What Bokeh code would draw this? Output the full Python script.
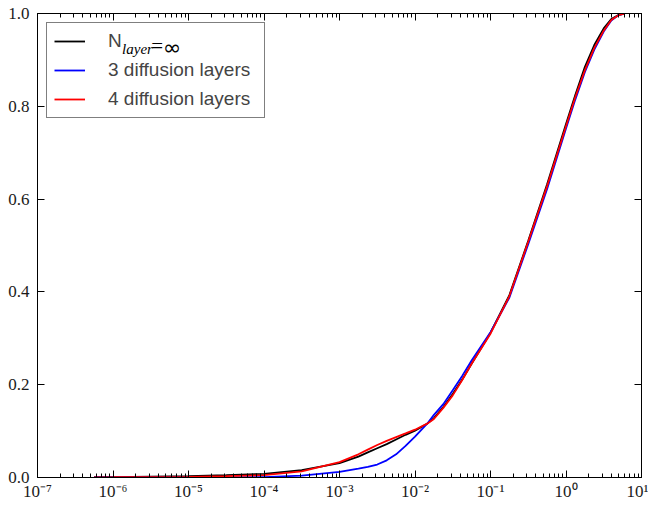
from bokeh.plotting import figure
from bokeh.models import (Range1d, FixedTicker, LogAxis, LinearAxis, CustomJSTickFormatter,
                          Legend, LegendItem, PrintfTickFormatter)
from bokeh.core.properties import value
from bokeh.embed import file_html
from bokeh.resources import INLINE

# ---- data ----
x_vals = [5.6e-7, 1e-6, 3.16e-6, 1e-5, 3.16e-5, 1e-4, 3.16e-4, 1e-3, 1.78e-3, 2.37e-3,
          3.16e-3, 4.22e-3, 5.62e-3, 7.5e-3, 1e-2, 1.45e-2, 1.78e-2, 2.37e-2, 3.16e-2,
          4.22e-2, 5.62e-2, 0.1, 0.178, 0.316, 0.562, 1.0, 1.33, 1.78, 2.37, 3.16,
          3.98, 5.01, 6.03]
y_inf = [0.0007, 0.001, 0.002, 0.003, 0.005, 0.008, 0.016, 0.031, 0.045, 0.054,
         0.063, 0.072, 0.082, 0.092, 0.101, 0.116, 0.128, 0.152, 0.180,
         0.211, 0.245, 0.312, 0.393, 0.510, 0.632, 0.762, 0.825, 0.885, 0.932, 0.968,
         0.988, 0.997, 1.0]
y_3 = [0.0, 0.0, 0.0001, 0.0002, 0.0004, 0.001, 0.004, 0.012, 0.019, 0.023,
       0.028, 0.037, 0.050, 0.068, 0.088, 0.116, 0.135, 0.158, 0.188,
       0.219, 0.252, 0.313, 0.388, 0.503, 0.622, 0.752, 0.815, 0.874, 0.922, 0.961,
       0.985, 0.997, 1.0]
y_4 = [0.0004, 0.0005, 0.001, 0.0015, 0.003, 0.005, 0.013, 0.033, 0.050, 0.060,
       0.070, 0.079, 0.087, 0.095, 0.103, 0.116, 0.126, 0.150, 0.177,
       0.210, 0.245, 0.310, 0.391, 0.508, 0.628, 0.757, 0.820, 0.878, 0.926, 0.963,
       0.986, 0.997, 1.0]
labels = ["N", "3 diffusion layers", "4 diffusion layers"]
label0_sub = "layer"
label0_eq = "="
label0_inf = "\u221e"
colors = ["#000000", "#0000ff", "#ff0000"]
x_major = [1e-7, 1e-6, 1e-5, 1e-4, 1e-3, 1e-2, 1e-1, 1e0, 1e1]
y_major = [0.0, 0.2, 0.4, 0.6, 0.8, 1.0]

x_minor = [m * d for d in x_major[:-1] for m in range(2, 10)]

p = figure(width=648, height=503, x_axis_type="log",
           x_range=Range1d(1e-7, 10), y_range=Range1d(0, 1),
           output_backend="svg", toolbar_location=None,
           min_border_left=37, min_border_right=7, min_border_top=13, min_border_bottom=22)
p.grid.visible = False
p.outline_line_color = "black"
p.outline_line_width = 1
p.background_fill_color = "white"
p.border_fill_color = "white"

sup_code = r"""
const sup = {"-": "\u207b", "0": "\u2070", "1": "\u00b9", "2": "\u00b2", "3": "\u00b3",
             "4": "\u2074", "5": "\u2075", "6": "\u2076", "7": "\u2077", "8": "\u2078", "9": "\u2079"};
const e = Math.round(Math.log10(tick));
return "10" + String(e).split("").map(c => sup[c]).join("");
"""
blank_code = "return '';"

xt = FixedTicker(ticks=x_major, minor_ticks=x_minor)
yt = FixedTicker(ticks=y_major, minor_ticks=[])

def style(ax):
    ax.axis_line_color = "black"
    ax.axis_line_width = 1
    ax.major_tick_in = 7
    ax.major_tick_out = 0
    ax.minor_tick_in = 4
    ax.minor_tick_out = 0
    ax.major_tick_line_color = "black"
    ax.minor_tick_line_color = "black"
    ax.major_label_text_font = "Liberation Serif"
    ax.major_label_text_color = "#1a1a1a"

xa = p.xaxis[0]
xa.ticker = xt
xa.formatter = CustomJSTickFormatter(code=sup_code)
style(xa)
xa.major_label_text_font_size = "17px"
xa.major_label_standoff = 4

ya = p.yaxis[0]
ya.ticker = yt
ya.formatter = PrintfTickFormatter(format="%.1f")
style(ya)
ya.major_label_text_font_size = "17px"
ya.major_label_standoff = 8

top = LogAxis(ticker=xt, formatter=CustomJSTickFormatter(code=blank_code))
style(top)
top.major_label_standoff = 0
top.major_label_text_font_size = "1px"
p.add_layout(top, "above")
right = LinearAxis(ticker=yt, formatter=CustomJSTickFormatter(code=blank_code))
style(right)
right.major_label_standoff = 0
right.major_label_text_font_size = "1px"
p.add_layout(right, "right")

r0 = p.line(x_vals, y_inf, line_color=colors[0], line_width=1.8)
r1 = p.line(x_vals, y_3, line_color=colors[1], line_width=1.8)
r2 = p.line(x_vals, y_4, line_color=colors[2], line_width=1.8)

# subscript and tail of the first legend label
p.text(x=[1.32e-6], y=[0.924], text=[label0_sub],
       text_font=value("Liberation Serif"), text_font_style="italic",
       text_font_size="15px", text_baseline="alphabetic", text_color="black")
p.text(x=[3.2e-6], y=[0.929], text=[label0_eq],
       text_font=value("Liberation Serif"), text_font_size="21px",
       text_baseline="alphabetic", text_color="black")
p.text(x=[4.6e-6], y=[0.927], text=[label0_inf],
       text_font=value("DejaVu Sans"), text_font_size="22px",
       text_baseline="alphabetic", text_color="black")

legend = Legend(items=[LegendItem(label=labels[0], renderers=[r0]),
                       LegendItem(label=labels[1], renderers=[r1]),
                       LegendItem(label=labels[2], renderers=[r2])],
                location="top_left", margin=9, padding=7, spacing=7,
                glyph_width=31, glyph_height=20, label_height=20, label_standoff=23,
                label_width=149,
                border_line_color="black", border_line_width=1,
                background_fill_color="white", background_fill_alpha=0,
                label_text_font="Liberation Sans", label_text_font_size="19px")
p.add_layout(legend, "center")

open("out.html", "w").write(file_html(p, INLINE))
